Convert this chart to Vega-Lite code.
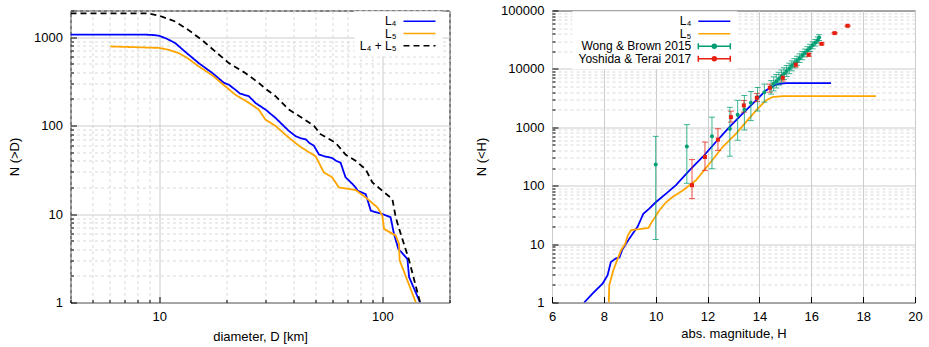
{
  "$schema": "https://vega.github.io/schema/vega-lite/v6.json",
  "padding": {"left": 7.5, "top": 3.5, "right": 0, "bottom": 0},
  "autosize": {"type": "pad"},
  "config": {
    "view": {"stroke": "#000000", "strokeWidth": 1},
    "font": "Liberation Sans",
    "axis": {"labelFont": "Liberation Sans", "labelFontSize": 13, "labelColor": "#000000", "titleFont": "Liberation Sans", "titleFontSize": 13, "titleFontWeight": "normal", "titleColor": "#000000", "domain": false, "tickColor": "#000000", "grid": true, "gridWidth": 1, "labelFlush": false, "labelOverlap": false},
    "legend": {"labelFont": "Liberation Sans", "labelFontSize": 12, "labelColor": "#000000", "symbolStrokeWidth": 1.5},
    "concat": {"spacing": 24.5}
  },
  "datasets": {
    "size": [
      {"series": "L₄", "D": 4, "N": 1070}, {"series": "L₄", "D": 8.4, "N": 1070}, {"series": "L₄", "D": 9.5, "N": 1055}, {"series": "L₄", "D": 10, "N": 1035}, {"series": "L₄", "D": 10.8, "N": 960}, {"series": "L₄", "D": 11.8, "N": 855}, {"series": "L₄", "D": 13, "N": 690}, {"series": "L₄", "D": 15, "N": 510}, {"series": "L₄", "D": 17.3, "N": 393}, {"series": "L₄", "D": 19.5, "N": 304}, {"series": "L₄", "D": 20.5, "N": 290}, {"series": "L₄", "D": 21.9, "N": 255}, {"series": "L₄", "D": 23, "N": 230}, {"series": "L₄", "D": 25.2, "N": 215}, {"series": "L₄", "D": 27, "N": 180}, {"series": "L₄", "D": 29.9, "N": 152}, {"series": "L₄", "D": 33.2, "N": 122}, {"series": "L₄", "D": 36, "N": 100}, {"series": "L₄", "D": 38.1, "N": 87}, {"series": "L₄", "D": 40.8, "N": 76}, {"series": "L₄", "D": 43, "N": 72}, {"series": "L₄", "D": 45.3, "N": 70}, {"series": "L₄", "D": 47, "N": 64}, {"series": "L₄", "D": 49.4, "N": 59}, {"series": "L₄", "D": 52, "N": 47}, {"series": "L₄", "D": 55, "N": 45}, {"series": "L₄", "D": 59.6, "N": 43}, {"series": "L₄", "D": 62, "N": 40}, {"series": "L₄", "D": 65, "N": 38}, {"series": "L₄", "D": 68.4, "N": 26}, {"series": "L₄", "D": 72, "N": 23}, {"series": "L₄", "D": 75.9, "N": 20}, {"series": "L₄", "D": 77.6, "N": 18.3}, {"series": "L₄", "D": 84.2, "N": 16.8}, {"series": "L₄", "D": 88.8, "N": 10.9}, {"series": "L₄", "D": 100, "N": 10}, {"series": "L₄", "D": 108.9, "N": 9.2}, {"series": "L₄", "D": 112.7, "N": 6}, {"series": "L₄", "D": 117.9, "N": 4.05}, {"series": "L₄", "D": 129.5, "N": 3.1}, {"series": "L₄", "D": 131.8, "N": 1.94}, {"series": "L₄", "D": 147.6, "N": 1},
      {"series": "L₅", "D": 6.03, "N": 785}, {"series": "L₅", "D": 10, "N": 755}, {"series": "L₅", "D": 11, "N": 720}, {"series": "L₅", "D": 12.2, "N": 660}, {"series": "L₅", "D": 13.5, "N": 570}, {"series": "L₅", "D": 15, "N": 468}, {"series": "L₅", "D": 17.3, "N": 370}, {"series": "L₅", "D": 19.5, "N": 286}, {"series": "L₅", "D": 21.9, "N": 224}, {"series": "L₅", "D": 25.2, "N": 181}, {"series": "L₅", "D": 27.9, "N": 152}, {"series": "L₅", "D": 29.9, "N": 117}, {"series": "L₅", "D": 33.2, "N": 99}, {"series": "L₅", "D": 38.1, "N": 73}, {"series": "L₅", "D": 42.3, "N": 59}, {"series": "L₅", "D": 46.9, "N": 50}, {"series": "L₅", "D": 50.2, "N": 45}, {"series": "L₅", "D": 54.7, "N": 29.5}, {"series": "L₅", "D": 59.6, "N": 26}, {"series": "L₅", "D": 63.8, "N": 20}, {"series": "L₅", "D": 75.9, "N": 18.7}, {"series": "L₅", "D": 84.2, "N": 15.4}, {"series": "L₅", "D": 95, "N": 11.9}, {"series": "L₅", "D": 100, "N": 9.6}, {"series": "L₅", "D": 101.7, "N": 6.8}, {"series": "L₅", "D": 114.8, "N": 5.7}, {"series": "L₅", "D": 118.8, "N": 4.6}, {"series": "L₅", "D": 119.5, "N": 3.0}, {"series": "L₅", "D": 141.3, "N": 1},
      {"series": "L₄ + L₅", "D": 4, "N": 1860}, {"series": "L₄ + L₅", "D": 8.8, "N": 1860}, {"series": "L₄ + L₅", "D": 10, "N": 1750}, {"series": "L₄ + L₅", "D": 11.8, "N": 1500}, {"series": "L₄ + L₅", "D": 13.5, "N": 1207}, {"series": "L₄ + L₅", "D": 15.5, "N": 933}, {"series": "L₄ + L₅", "D": 17.8, "N": 689}, {"series": "L₄ + L₅", "D": 20.5, "N": 509}, {"series": "L₄ + L₅", "D": 24.3, "N": 393}, {"series": "L₄ + L₅", "D": 27.9, "N": 304}, {"series": "L₄ + L₅", "D": 29.9, "N": 262}, {"series": "L₄ + L₅", "D": 33.2, "N": 215}, {"series": "L₄ + L₅", "D": 38.1, "N": 152}, {"series": "L₄ + L₅", "D": 43.7, "N": 122}, {"series": "L₄ + L₅", "D": 49.4, "N": 99}, {"series": "L₄ + L₅", "D": 52.8, "N": 80}, {"series": "L₄ + L₅", "D": 61.7, "N": 64}, {"series": "L₄ + L₅", "D": 68.4, "N": 47}, {"series": "L₄ + L₅", "D": 75.9, "N": 40}, {"series": "L₄ + L₅", "D": 84.2, "N": 32}, {"series": "L₄ + L₅", "D": 90.2, "N": 22.8}, {"series": "L₄ + L₅", "D": 100, "N": 18.3}, {"series": "L₄ + L₅", "D": 110.9, "N": 14.8}, {"series": "L₄ + L₅", "D": 114.8, "N": 9.2}, {"series": "L₄ + L₅", "D": 120.8, "N": 6}, {"series": "L₄ + L₅", "D": 131.8, "N": 3}, {"series": "L₄ + L₅", "D": 147.6, "N": 1}
    ],
    "mag": [
      {"series": "L₄", "H": 7.24, "N": 1}, {"series": "L₄", "H": 7.57, "N": 1.43}, {"series": "L₄", "H": 7.95, "N": 2.1}, {"series": "L₄", "H": 8.14, "N": 2.9}, {"series": "L₄", "H": 8.27, "N": 4.95}, {"series": "L₄", "H": 8.47, "N": 5.7}, {"series": "L₄", "H": 8.6, "N": 5.9}, {"series": "L₄", "H": 8.7, "N": 7.8}, {"series": "L₄", "H": 8.98, "N": 12.4}, {"series": "L₄", "H": 9.11, "N": 15.1}, {"series": "L₄", "H": 9.3, "N": 19.7}, {"series": "L₄", "H": 9.45, "N": 28}, {"series": "L₄", "H": 9.52, "N": 33}, {"series": "L₄", "H": 9.75, "N": 40.5}, {"series": "L₄", "H": 10, "N": 52}, {"series": "L₄", "H": 10.4, "N": 73}, {"series": "L₄", "H": 10.78, "N": 102}, {"series": "L₄", "H": 11.3, "N": 183}, {"series": "L₄", "H": 11.81, "N": 310}, {"series": "L₄", "H": 12.32, "N": 560}, {"series": "L₄", "H": 12.84, "N": 1010}, {"series": "L₄", "H": 13.35, "N": 1710}, {"series": "L₄", "H": 13.87, "N": 2890}, {"series": "L₄", "H": 14.25, "N": 4290}, {"series": "L₄", "H": 14.64, "N": 5420}, {"series": "L₄", "H": 15.02, "N": 5700}, {"series": "L₄", "H": 16.76, "N": 5700},
      {"series": "L₅", "H": 8.19, "N": 1}, {"series": "L₅", "H": 8.21, "N": 2.0}, {"series": "L₅", "H": 8.36, "N": 3.5}, {"series": "L₅", "H": 8.49, "N": 5}, {"series": "L₅", "H": 8.66, "N": 7.8}, {"series": "L₅", "H": 8.83, "N": 10.2}, {"series": "L₅", "H": 8.92, "N": 14}, {"series": "L₅", "H": 9.05, "N": 17.3}, {"series": "L₅", "H": 9.37, "N": 18}, {"series": "L₅", "H": 9.72, "N": 19}, {"series": "L₅", "H": 9.85, "N": 24}, {"series": "L₅", "H": 10.0, "N": 30}, {"series": "L₅", "H": 10.14, "N": 38}, {"series": "L₅", "H": 10.4, "N": 52}, {"series": "L₅", "H": 10.65, "N": 64}, {"series": "L₅", "H": 11.04, "N": 83}, {"series": "L₅", "H": 11.55, "N": 124}, {"series": "L₅", "H": 12.07, "N": 238}, {"series": "L₅", "H": 12.58, "N": 460}, {"series": "L₅", "H": 13.1, "N": 777}, {"series": "L₅", "H": 13.48, "N": 1230}, {"series": "L₅", "H": 13.87, "N": 1950}, {"series": "L₅", "H": 14.25, "N": 2890}, {"series": "L₅", "H": 14.5, "N": 3300}, {"series": "L₅", "H": 14.9, "N": 3430}, {"series": "L₅", "H": 18.49, "N": 3430}
    ],
    "obs": [
      {"series": "Wong & Brown 2015", "H": 10.0, "N": 230, "lo": 12, "hi": 700},
      {"series": "Wong & Brown 2015", "H": 11.2, "N": 470, "lo": 110, "hi": 1110},
      {"series": "Wong & Brown 2015", "H": 12.17, "N": 705, "lo": 195, "hi": 1490},
      {"series": "Wong & Brown 2015", "H": 12.86, "N": 946, "lo": 320, "hi": 2200},
      {"series": "Wong & Brown 2015", "H": 13.16, "N": 1640, "lo": 600, "hi": 2900},
      {"series": "Wong & Brown 2015", "H": 13.42, "N": 2000, "lo": 900, "hi": 3500},
      {"series": "Wong & Brown 2015", "H": 13.67, "N": 2630, "lo": 1300, "hi": 4100},
      {"series": "Wong & Brown 2015", "H": 13.93, "N": 3280, "lo": 1900, "hi": 4800},
      {"series": "Wong & Brown 2015", "H": 14.19, "N": 4000, "lo": 2700, "hi": 5500},
      {"series": "Wong & Brown 2015", "H": 14.45, "N": 4900, "lo": 3700, "hi": 6300},
      {"series": "Wong & Brown 2015", "H": 14.55, "N": 5550, "lo": 4210, "hi": 7320},
      {"series": "Wong & Brown 2015", "H": 14.65, "N": 6140, "lo": 4710, "hi": 8000},
      {"series": "Wong & Brown 2015", "H": 14.75, "N": 6790, "lo": 5270, "hi": 8750},
      {"series": "Wong & Brown 2015", "H": 14.85, "N": 7520, "lo": 5900, "hi": 9580},
      {"series": "Wong & Brown 2015", "H": 14.95, "N": 8320, "lo": 6610, "hi": 10480},
      {"series": "Wong & Brown 2015", "H": 15.05, "N": 9200, "lo": 7390, "hi": 11450},
      {"series": "Wong & Brown 2015", "H": 15.15, "N": 10190, "lo": 8280, "hi": 12540},
      {"series": "Wong & Brown 2015", "H": 15.25, "N": 11270, "lo": 9270, "hi": 13710},
      {"series": "Wong & Brown 2015", "H": 15.35, "N": 12470, "lo": 10370, "hi": 14990},
      {"series": "Wong & Brown 2015", "H": 15.45, "N": 13800, "lo": 11560, "hi": 16480},
      {"series": "Wong & Brown 2015", "H": 15.55, "N": 15280, "lo": 12880, "hi": 18120},
      {"series": "Wong & Brown 2015", "H": 15.65, "N": 16900, "lo": 14350, "hi": 19910},
      {"series": "Wong & Brown 2015", "H": 15.75, "N": 18700, "lo": 16000, "hi": 21860},
      {"series": "Wong & Brown 2015", "H": 15.85, "N": 20700, "lo": 17830, "hi": 24030},
      {"series": "Wong & Brown 2015", "H": 15.95, "N": 22900, "lo": 19860, "hi": 26400},
      {"series": "Wong & Brown 2015", "H": 16.05, "N": 25350, "lo": 22120, "hi": 29050},
      {"series": "Wong & Brown 2015", "H": 16.15, "N": 28050, "lo": 24650, "hi": 31920},
      {"series": "Wong & Brown 2015", "H": 16.25, "N": 31050, "lo": 27480, "hi": 35090},
      {"series": "Wong & Brown 2015", "H": 16.3, "N": 34360, "lo": 30620, "hi": 38550},
      {"series": "Yoshida & Terai 2017", "H": 11.4, "N": 102, "lo": 60, "hi": 280},
      {"series": "Yoshida & Terai 2017", "H": 11.9, "N": 310, "lo": 183, "hi": 558},
      {"series": "Yoshida & Terai 2017", "H": 12.4, "N": 615, "lo": 403, "hi": 946},
      {"series": "Yoshida & Terai 2017", "H": 12.9, "N": 1495, "lo": 1230, "hi": 1890},
      {"series": "Yoshida & Terai 2017", "H": 13.4, "N": 2370, "lo": 1820, "hi": 2880},
      {"series": "Yoshida & Terai 2017", "H": 13.9, "N": 3200, "lo": 2750, "hi": 3800},
      {"series": "Yoshida & Terai 2017", "H": 14.4, "N": 4750, "lo": 4000, "hi": 5500},
      {"series": "Yoshida & Terai 2017", "H": 14.9, "N": 7050, "lo": 6200, "hi": 8000},
      {"series": "Yoshida & Terai 2017", "H": 15.4, "N": 11800, "lo": 10800, "hi": 12800},
      {"series": "Yoshida & Terai 2017", "H": 15.9, "N": 17500, "lo": 16500, "hi": 18600},
      {"series": "Yoshida & Terai 2017", "H": 16.4, "N": 26900, "lo": 25800, "hi": 28000},
      {"series": "Yoshida & Terai 2017", "H": 16.9, "N": 41000, "lo": 40000, "hi": 42000},
      {"series": "Yoshida & Terai 2017", "H": 17.4, "N": 54700, "lo": 53500, "hi": 55900}
    ]
  },
  "hconcat": [
    {
      "width": 379,
      "height": 292,
      "data": {"name": "size"},
      "mark": {"type": "line", "strokeWidth": 1.8, "clip": true},
      "encoding": {
        "x": {"field": "D", "type": "quantitative",
          "scale": {"type": "log", "domain": [4, 200], "nice": false},
          "axis": {"title": "diameter, D [km]", "values": [4,5,6,7,8,9,10,20,30,40,50,60,70,80,90,100,200], "format": "d",
            "labelExpr": "(datum.value == 10 || datum.value == 100) ? datum.label : ''",
            "gridDash": {"condition": {"test": "datum.value == 10 || datum.value == 100", "value": []}, "value": [3, 3]},
            "gridColor": {"condition": {"test": "datum.value == 10 || datum.value == 100", "value": "#cccccc"}, "value": "#d9d9d9"},
            "tickSize": {"condition": {"test": "datum.value == 10 || datum.value == 100", "value": -6}, "value": -3},
            "labelPadding": 14, "titlePadding": 4}},
        "y": {"field": "N", "type": "quantitative",
          "scale": {"type": "log", "domain": [1, 2000], "nice": false},
          "axis": {"title": "N (>D)", "values": [1,2,3,4,5,6,7,8,9,10,20,30,40,50,60,70,80,90,100,200,300,400,500,600,700,800,900,1000,2000], "format": "d",
            "labelExpr": "(datum.value == 1 || datum.value == 10 || datum.value == 100 || datum.value == 1000) ? datum.label : ''",
            "gridDash": {"condition": {"test": "datum.value == 1 || datum.value == 10 || datum.value == 100 || datum.value == 1000", "value": []}, "value": [3, 3]},
            "gridColor": {"condition": {"test": "datum.value == 1 || datum.value == 10 || datum.value == 100 || datum.value == 1000", "value": "#cccccc"}, "value": "#d9d9d9"},
            "tickSize": {"condition": {"test": "datum.value == 1 || datum.value == 10 || datum.value == 100 || datum.value == 1000", "value": -6}, "value": -3},
            "labelPadding": 14, "titlePadding": 12}},
        "color": {"field": "series", "type": "nominal",
          "scale": {"domain": ["L₄", "L₅", "L₄ + L₅"], "range": ["#0000ff", "#ffa500", "#000000"]},
          "legend": {"title": null, "orient": "none", "legendX": 284, "legendY": 0.7, "padding": 4,
            "symbolSize": 100, "rowPadding": 0.3,
            "labelAlign": "right", "labelOffset": -29, "symbolOffset": 55, "fillColor": "#ffffff",
            "encode": {"symbols": {"update": {
              "shape": {"value": "M-3.2,0H3.2"},
              "size": {"value": 100},
              "strokeWidth": {"value": 1.5},
              "fill": {"value": "transparent"},
              "strokeDash": {"signal": "datum.value == 'L₄ + L₅' ? [6, 4] : [1, 0]"},
              "stroke": {"signal": "datum.value == 'L₄' ? '#0000ff' : datum.value == 'L₅' ? '#ffa500' : '#000000'"}
            }}}}},
        "strokeDash": {"field": "series", "type": "nominal",
          "scale": {"domain": ["L₄", "L₅", "L₄ + L₅"], "range": [[1, 0], [1, 0], [6, 4]]},
          "legend": null}
      }
    },
    {
      "width": 363,
      "height": 292,
      "encoding": {
        "x": {"field": "H", "type": "quantitative",
          "scale": {"domain": [6, 20], "nice": false, "zero": false},
          "axis": {"title": "abs. magnitude, H", "values": [6,8,10,12,14,16,18,20], "format": "d",
            "gridColor": "#cccccc", "tickSize": -6, "labelPadding": 14, "titlePadding": 4}}
      },
      "layer": [
        {
          "data": {"name": "mag"},
          "mark": {"type": "line", "strokeWidth": 1.8, "clip": true},
          "encoding": {
            "y": {"field": "N", "type": "quantitative",
              "scale": {"type": "log", "domain": [1, 100000], "nice": false},
              "axis": {"title": "N (<H)", "values": [1,2,3,4,5,6,7,8,9,10,20,30,40,50,60,70,80,90,100,200,300,400,500,600,700,800,900,1000,2000,3000,4000,5000,6000,7000,8000,9000,10000,20000,30000,40000,50000,60000,70000,80000,90000,100000], "format": "d",
                "labelExpr": "(datum.value == 1 || datum.value == 10 || datum.value == 100 || datum.value == 1000 || datum.value == 10000 || datum.value == 100000) ? datum.label : ''",
                "gridDash": {"condition": {"test": "datum.value == 1 || datum.value == 10 || datum.value == 100 || datum.value == 1000 || datum.value == 10000 || datum.value == 100000", "value": []}, "value": [3, 3]},
                "gridColor": {"condition": {"test": "datum.value == 1 || datum.value == 10 || datum.value == 100 || datum.value == 1000 || datum.value == 10000 || datum.value == 100000", "value": "#cccccc"}, "value": "#d9d9d9"},
                "tickSize": {"condition": {"test": "datum.value == 1 || datum.value == 10 || datum.value == 100 || datum.value == 1000 || datum.value == 10000 || datum.value == 100000", "value": -6}, "value": -3},
                "labelPadding": 14, "titlePadding": 12}},
            "color": {"field": "series", "type": "nominal",
              "scale": {"domain": ["L₄", "L₅", "Wong & Brown 2015", "Yoshida & Terai 2017"], "range": ["#0000ff", "#ffa500", "#009e73", "#e51e10"]},
              "legend": {"title": null, "orient": "none", "legendX": 20.3, "legendY": 0.7, "padding": 4,
                "symbolSize": 100, "rowPadding": 0.5,
                "labelAlign": "right", "labelOffset": -29, "symbolOffset": 132, "fillColor": "#ffffff",
                "encode": {"symbols": {"update": {
                  "shape": {"signal": "(datum.value == 'Wong & Brown 2015' || datum.value == 'Yoshida & Terai 2017') ? 'M-3.2,0H3.2M-3.2,-0.6V0.6M3.2,-0.6V0.6M0.4,0A0.4,0.4,0,1,1,-0.4,0A0.4,0.4,0,1,1,0.4,0Z' : 'M-3.2,0H3.2'"},
                  "size": {"value": 100},
                  "strokeWidth": {"value": 1.5},
                  "fill": {"signal": "datum.value == 'Wong & Brown 2015' ? '#009e73' : datum.value == 'Yoshida & Terai 2017' ? '#e51e10' : 'transparent'"},
                  "stroke": {"signal": "datum.value == 'L₄' ? '#0000ff' : datum.value == 'L₅' ? '#ffa500' : datum.value == 'Wong & Brown 2015' ? '#009e73' : '#e51e10'"}
                }}}}}
          }
        },
        {
          "data": {"name": "obs"},
          "mark": {"type": "errorbar", "ticks": {"size": 6, "thickness": 1, "opacity": 0.75}, "rule": {"strokeWidth": 1, "opacity": 0.75}},
          "encoding": {
            "y": {"field": "lo", "type": "quantitative", "title": "N (<H)"},
            "y2": {"field": "hi"},
            "color": {"field": "series", "type": "nominal",
              "scale": {"domain": ["L₄", "L₅", "Wong & Brown 2015", "Yoshida & Terai 2017"], "range": ["#0000ff", "#ffa500", "#009e73", "#e51e10"]},
              "legend": null}
          }
        },
        {
          "data": {"name": "obs"},
          "mark": {"type": "point", "filled": true, "opacity": 1, "size": 16},
          "encoding": {
            "y": {"field": "N", "type": "quantitative", "title": "N (<H)"},
            "color": {"field": "series", "type": "nominal",
              "scale": {"domain": ["L₄", "L₅", "Wong & Brown 2015", "Yoshida & Terai 2017"], "range": ["#0000ff", "#ffa500", "#009e73", "#e51e10"]},
              "legend": null},
            "shape": {"field": "series", "type": "nominal",
              "scale": {"domain": ["Wong & Brown 2015", "Yoshida & Terai 2017"], "range": ["circle", "square"]},
              "legend": null}
          }
        }
      ]
    }
  ],
  "resolve": {"scale": {"color": "independent", "strokeDash": "independent", "shape": "independent"}, "legend": {"color": "independent"}}
}
